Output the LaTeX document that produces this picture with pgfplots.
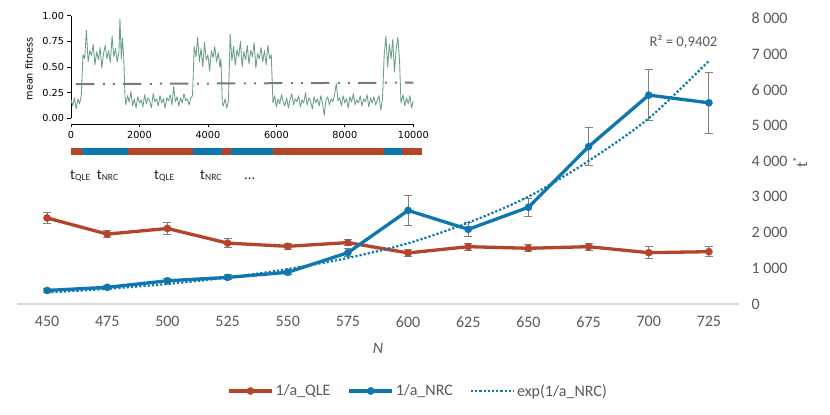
\documentclass[border=0pt]{standalone}
\usepackage{fontspec}
\setmainfont{Carlito}
\newfontfamily\djv{DejaVu Sans}
\usepackage{pgfplots}
\pgfplotsset{compat=1.18}
\definecolor{qle}{HTML}{B4452B}
\definecolor{nrc}{HTML}{0E77AD}
\definecolor{tx}{HTML}{595959}
\definecolor{eb}{HTML}{7F7F7F}
\definecolor{fitc}{HTML}{6A9E87}
\definecolor{axg}{HTML}{D9D9D9}
\definecolor{dashg}{HTML}{7A7A7A}
\newcommand\tf{\fontsize{14.7}{17}\selectfont}
\newcommand\tk{\fontsize{16}{18}\selectfont}
\newcommand\sub[1]{\raisebox{-1pt}{\fontsize{9.5}{10}\selectfont #1}}
\pgfplotsset{
  lmleg/.style={legend image code/.code={\draw[mark repeat=2, mark phase=2, ##1] plot coordinates {(0pt,0pt)(21.5pt,0pt)(43pt,0pt)};}},
  lleg/.style={legend image code/.code={\draw[##1] (0pt,0pt) -- (43pt,0pt);}},
}

\pgfplotstableread{
N    v     e
450  2410  150
475  1957  100
500  2115  163
525  1705  117
550  1615  93
575  1720  93
600  1430  100
625  1605  93
650  1560  93
675  1605  93
700  1437  164
725  1465  135
}\qletab

\pgfplotstableread{
N    v     e
450  380   50
475  467   50
500  650   60
525  745   70
550  888   60
575  1437  120
600  2620  410
625  2091  205
650  2708  245
675  4406  530
700  5849  714
725  5633  845
}\nrctab

\pgfplotstableread{
N    v
450  322
475  425
500  561
525  740
550  977
575  1290
600  1700
625  2277
650  3006
675  4006
700  5200
725  6807
}\fittab

\begin{document}
\begin{tikzpicture}[x=1pt,y=1pt]
\path[use as bounding box] (0,0) rectangle (830,415);

% ---------------- main axis ----------------
\begin{axis}[
  at={(17pt,111pt)}, anchor=south west,
  scale only axis, width=722pt, height=285.7pt,
  xmin=437.5, xmax=737.5, ymin=0, ymax=8000,
  axis x line*=bottom, axis y line*=right,
  x axis line style={-, draw=axg, line width=1.2pt},
  y axis line style={draw=none},
  xtick={450,475,...,725}, ytick={0,1000,...,8000},
  major tick length=0pt,
  tick label style={font=\tk, text=tx},
  /pgf/number format/assume math mode=true,
  yticklabel style={/pgf/number format/.cd, 1000 sep={\ }, /tikz/.cd, anchor=west, xshift=9pt},
  xticklabel style={/pgf/number format/.cd, 1000 sep={}, /tikz/.cd, yshift=-9pt},
  legend columns=3,
  legend style={at={(axis description cs:0.5555,-0.3045)}, anchor=center, draw=none, fill=none,
     font=\tk, text=tx, /tikz/every even column/.append style={column sep=15pt}},
  clip=false,
]
\addplot[qle, line width=3.3pt, mark=*, mark size=3.6pt, mark options={solid, line width=0.4pt, fill=qle},
  lmleg,
  error bars/.cd, y dir=both, y explicit,
  error bar style={eb, line width=1pt},
  error mark options={rotate=90, mark size=4pt, eb, line width=1pt},
  ]
  table[x=N, y=v, y error=e] {\qletab};
\addlegendentry{1/a\_QLE}
\addplot[nrc, line width=3.3pt, mark=*, mark size=3.6pt, mark options={solid, line width=0.4pt, fill=nrc},
  lmleg,
  error bars/.cd, y dir=both, y explicit,
  error bar style={eb, line width=1pt},
  error mark options={rotate=90, mark size=4pt, eb, line width=1pt},
  ]
  table[x=N, y=v, y error=e] {\nrctab};
\addlegendentry{1/a\_NRC}
\addplot[nrc, line width=2.2pt, smooth, dash pattern=on 2.2pt off 2pt, line cap=butt, lleg]
  table[x=N, y=v] {\fittab};
\addlegendentry{exp(1/a\_NRC)}
\end{axis}

\node[font=\tf, text=tx] at (683.5pt,373.3pt) {R² = 0,9402};
\node[font=\tk, text=tx] at (378pt,67pt) {\textit{N}};
\node[font=\tk, text=tx, rotate=90] at (800pt,253pt) {t\textsuperscript{*}};

% ---------------- inset ----------------
\begin{axis}[
  at={(71pt,291pt)}, anchor=south west,
  scale only axis, width=342.3pt, height=108.3pt,
  xmin=0, xmax=10000, ymin=-0.0556, ymax=1,
  axis x line*=bottom, axis y line*=left,
  x axis line style={-, black, line width=0.8pt},
  y axis line style={-, black, line width=0.8pt, shorten <=5.7pt},
  xtick={0,2000,...,10000}, ytick={0,0.25,0.5,0.75,1},
  tick align=outside, major tick length=3.5pt,
  tick style={black, line width=0.8pt},
  tick label style={font=\djv\fontsize{9.7}{11}\selectfont, text=black},
  /pgf/number format/assume math mode=true,
  scaled x ticks=false, scaled y ticks=false,
  xticklabel style={/pgf/number format/.cd, 1000 sep={}},
  yticklabel style={/pgf/number format/.cd, fixed, fixed zerofill, precision=2},
]
\addplot[fitc, line width=0.85pt, line join=round] coordinates {
(0,0.18)(50,0.12)(100,0.20)(150,0.09)(200,0.19)(250,0.14)(300,0.22)
(350,0.62)(400,0.58)(450,0.86)(500,0.55)(550,0.66)(600,0.61)(650,0.72)(700,0.52)(750,0.65)(800,0.57)(850,0.69)(900,0.49)(950,0.63)(1000,0.71)(1050,0.58)(1100,0.66)(1150,0.54)(1200,0.80)(1250,0.60)(1300,0.68)(1350,0.55)(1400,0.64)(1430,0.97)(1470,0.58)(1500,0.78)(1540,0.60)
(1580,0.20)(1600,0.13)(1650,0.22)(1700,0.16)(1750,0.26)(1800,0.12)(1850,0.19)(1900,0.10)(1950,0.21)(2000,0.15)(2050,0.18)(2100,0.11)(2150,0.23)(2200,0.14)(2250,0.20)(2300,0.17)(2350,0.10)(2400,0.24)(2450,0.16)(2500,0.19)(2550,0.12)(2600,0.22)(2650,0.15)(2700,0.19)(2750,0.10)(2800,0.20)(2850,0.17)(2900,0.23)(2950,0.13)(3000,0.31)(3050,0.16)(3100,0.21)(3150,0.12)(3200,0.20)(3250,0.15)(3300,0.24)(3350,0.17)(3400,0.19)(3450,0.13)(3500,0.20)(3550,0.22)
(3600,0.70)(3650,0.60)(3700,0.79)(3750,0.55)(3800,0.68)(3850,0.50)(3900,0.74)(3950,0.57)(4000,0.62)(4050,0.46)(4100,0.66)(4150,0.59)(4200,0.70)(4250,0.55)(4300,0.64)(4350,0.50)(4380,0.58)
(4420,0.15)(4450,0.12)(4500,0.19)(4550,0.10)(4600,0.17)
(4650,0.82)(4700,0.56)(4750,0.70)(4800,0.52)(4850,0.67)(4900,0.60)(4950,0.75)(5000,0.50)(5050,0.65)(5100,0.57)(5150,0.71)(5200,0.53)(5250,0.66)(5300,0.60)(5350,0.74)(5400,0.49)(5450,0.63)(5500,0.58)(5550,0.69)(5600,0.55)(5650,0.66)(5700,0.52)(5750,0.71)(5800,0.58)(5850,0.62)
(5900,0.15)(5950,0.22)(6000,0.11)(6050,0.19)(6100,0.14)(6150,0.23)(6200,0.16)(6250,0.12)(6300,0.20)(6350,0.10)(6400,0.18)(6450,0.24)(6500,0.13)(6550,0.19)(6600,0.16)(6650,0.22)(6700,0.11)(6750,0.18)(6800,0.15)(6850,0.25)(6900,0.13)(6950,0.20)(7000,0.17)(7050,0.09)(7100,0.21)(7150,0.15)(7200,0.19)(7250,0.12)(7300,0.22)(7350,0.14)(7400,0.03)(7450,0.18)(7500,0.21)(7550,0.13)(7600,0.19)(7650,0.16)(7700,0.23)(7750,0.34)(7800,0.17)(7850,0.20)(7900,0.12)(7950,0.22)(8000,0.15)(8050,0.19)(8100,0.10)(8150,0.21)(8200,0.16)(8250,0.24)(8300,0.13)(8350,0.18)(8400,0.15)(8450,0.22)(8500,0.12)(8550,0.19)(8600,0.16)(8650,0.23)(8700,0.11)(8750,0.20)(8800,0.15)(8850,0.21)(8900,0.13)(8950,0.18)(9000,0.22)(9050,0.08)(9100,0.19)
(9150,0.62)(9200,0.80)(9250,0.50)(9300,0.72)(9350,0.58)(9400,0.77)(9450,0.45)(9500,0.68)(9550,0.79)(9600,0.55)
(9640,0.15)(9700,0.23)(9750,0.12)(9800,0.20)(9850,0.14)(9900,0.22)(9950,0.10)(10000,0.17)
};
\addplot[dashg, line width=2pt, line cap=butt, dash pattern=on 18.7pt off 8.3pt on 2pt off 8pt on 2pt off 8pt]
  coordinates {(140,0.333)(10000,0.348)};
\end{axis}
\node[font=\djv\fontsize{9.7}{11}\selectfont, rotate=90] at (29pt,346pt) {mean fitness};

% ---------------- colour bar ----------------
\begin{axis}[
  at={(71pt,260pt)}, anchor=south west,
  scale only axis, width=350.7pt, height=7.3pt,
  xmin=0, xmax=10245, ymin=0, ymax=1, hide axis, clip=false,
]
\addplot[qle, line width=7.3pt, line cap=butt] coordinates {(0,0.5)(312,0.5)};
\addplot[nrc, line width=7.3pt, line cap=butt] coordinates {(312,0.5)(1656,0.5)};
\addplot[qle, line width=7.3pt, line cap=butt] coordinates {(1656,0.5)(3564,0.5)};
\addplot[nrc, line width=7.3pt, line cap=butt] coordinates {(3564,0.5)(4421,0.5)};
\addplot[qle, line width=7.3pt, line cap=butt] coordinates {(4421,0.5)(4665,0.5)};
\addplot[nrc, line width=7.3pt, line cap=butt] coordinates {(4665,0.5)(5910,0.5)};
\addplot[qle, line width=7.3pt, line cap=butt] coordinates {(5910,0.5)(9144,0.5)};
\addplot[nrc, line width=7.3pt, line cap=butt] coordinates {(9144,0.5)(9669,0.5)};
\addplot[qle, line width=7.3pt, line cap=butt] coordinates {(9669,0.5)(10245,0.5)};
\end{axis}

% ---------------- t labels ----------------
\begin{scope}[every node/.style={anchor=base west, inner sep=0pt, font=\tf, text=black!85}]
\node at (70pt,235pt) {t\sub{QLE}};
\node at (96.7pt,235pt) {t\sub{NRC}};
\node at (154pt,235pt) {t\sub{QLE}};
\node at (200pt,235pt) {t\sub{NRC}};
\node at (244pt,235pt) {...};
\end{scope}
\end{tikzpicture}
\end{document}
